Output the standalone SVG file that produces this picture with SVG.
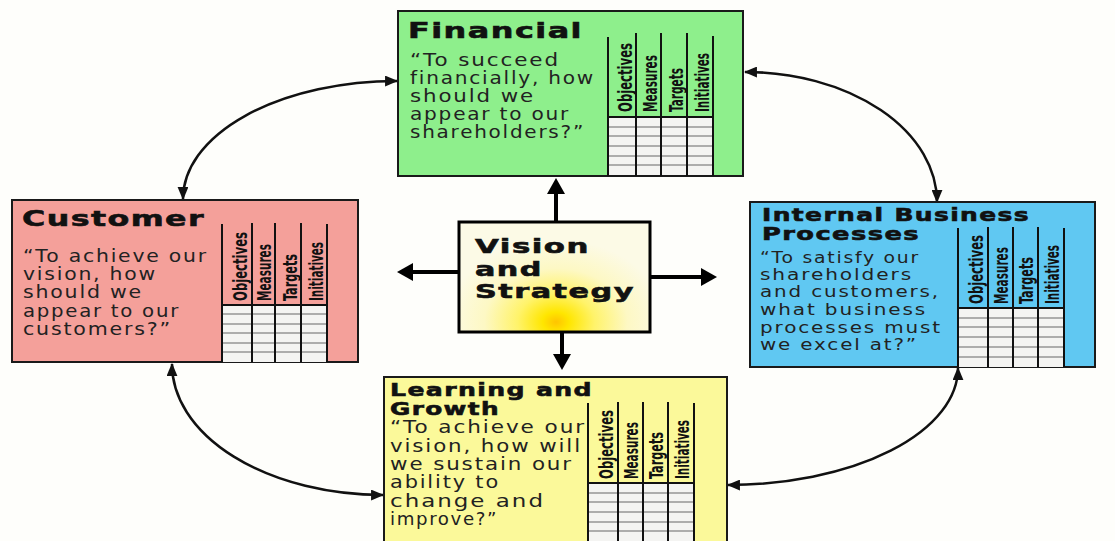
<svg xmlns="http://www.w3.org/2000/svg" width="1115" height="541" viewBox="0 0 1115 541">
<defs>
<style>
.box{stroke:#1a1a1a;stroke-width:2}
.tt{font-family:"DejaVu Sans","Liberation Sans",sans-serif;font-weight:bold;fill:#111;stroke:#111;stroke-width:0.6;letter-spacing:1px}
.bd{font-family:"DejaVu Sans","Liberation Sans",sans-serif;fill:#222;letter-spacing:1.5px}
.hd{font-family:"Liberation Sans Narrow","DejaVu Sans Condensed","Liberation Sans",sans-serif;font-weight:bold;font-size:20px;fill:#111}
.vl{stroke:#111;stroke-width:2}
.hl{stroke:#666;stroke-width:1}
.grid{fill:#f4f4f2}
.conn{fill:none;stroke:#111;stroke-width:2.5}
.thick{fill:none;stroke:#000;stroke-width:4}
.head{fill:#000}
</style>
<marker id="ah" viewBox="0 0 12 10" refX="11" refY="5" markerWidth="13" markerHeight="11" markerUnits="userSpaceOnUse" orient="auto-start-reverse">
<path d="M0,0 L12,5 L0,10 z" fill="#111"/>
</marker>
<radialGradient id="vg" gradientUnits="userSpaceOnUse" cx="556" cy="322" r="110" gradientTransform="translate(556 322) scale(1 0.75) translate(-556 -322)">
<stop offset="0" stop-color="#ffc400"/>
<stop offset="0.12" stop-color="#ffe600"/>
<stop offset="0.35" stop-color="#fff36a"/>
<stop offset="0.65" stop-color="#fdf8c4"/>
<stop offset="1" stop-color="#fcfae6"/>
</radialGradient>
</defs>
<rect x="0" y="0" width="1115" height="541" fill="#fefefb"/>

<g id="connectors">
<path class="conn" d="M397 81 A214 118 0 0 0 183 199" marker-start="url(#ah)" marker-end="url(#ah)"/>
<path class="conn" d="M745 72 A192 130 0 0 1 937 202" marker-start="url(#ah)" marker-end="url(#ah)"/>
<path class="conn" d="M172 364 A211 131 0 0 0 383 495" marker-start="url(#ah)" marker-end="url(#ah)"/>
<path class="conn" d="M958 368 A230 117 0 0 1 728 485" marker-start="url(#ah)" marker-end="url(#ah)"/>
<line class="thick" x1="556" y1="222" x2="556" y2="192"/>
<path class="head" d="M556 178 L547 194 L565 194 z"/>
<line class="thick" x1="562" y1="332" x2="562" y2="356"/>
<path class="head" d="M562 370 L553 354 L571 354 z"/>
<line class="thick" x1="650" y1="277" x2="703" y2="277"/>
<path class="head" d="M717 277 L701 268 L701 286 z"/>
<line class="thick" x1="459" y1="272" x2="411" y2="272"/>
<path class="head" d="M397 272 L413 263 L413 281 z"/>
</g>

<g id="node-financial">
<rect class="box" x="398" y="11" width="345" height="165" fill="#8eef8c"/>
<text class="tt" x="408" y="38" font-size="22" textLength="175" lengthAdjust="spacingAndGlyphs">Financial</text>
<g class="bd" font-size="17">
<text x="410" y="66" textLength="150" lengthAdjust="spacingAndGlyphs">“To succeed</text>
<text x="410" y="84" textLength="185" lengthAdjust="spacingAndGlyphs">financially, how</text>
<text x="410" y="102" textLength="125" lengthAdjust="spacingAndGlyphs">should we</text>
<text x="410" y="120" textLength="160" lengthAdjust="spacingAndGlyphs">appear to our</text>
<text x="410" y="138" textLength="175" lengthAdjust="spacingAndGlyphs">shareholders?”</text>
</g>
<rect class="grid" x="608" y="117" width="105" height="58"/>
<line class="hl" x1="608" y1="127" x2="713" y2="127"/>
<line class="hl" x1="608" y1="136" x2="713" y2="136" stroke="#333"/>
<line class="hl" x1="608" y1="146" x2="713" y2="146"/>
<line class="hl" x1="608" y1="156" x2="713" y2="156" stroke="#333"/>
<line class="hl" x1="608" y1="165" x2="713" y2="165"/>
<line class="vl" x1="608" y1="117" x2="713" y2="117"/>
<line class="vl" x1="608" y1="37" x2="608" y2="176"/>
<line class="vl" x1="636" y1="33" x2="636" y2="176"/>
<line class="vl" x1="661" y1="33" x2="661" y2="176"/>
<line class="vl" x1="687" y1="33" x2="687" y2="176"/>
<line class="vl" x1="713" y1="36" x2="713" y2="176"/>
<text class="hd" transform="translate(632 112) rotate(-90)" textLength="69" lengthAdjust="spacingAndGlyphs">Objectives</text>
<text class="hd" transform="translate(657 112) rotate(-90)" textLength="57" lengthAdjust="spacingAndGlyphs">Measures</text>
<text class="hd" transform="translate(683 112) rotate(-90)" textLength="44" lengthAdjust="spacingAndGlyphs">Targets</text>
<text class="hd" transform="translate(709 112) rotate(-90)" textLength="59" lengthAdjust="spacingAndGlyphs">Initiatives</text>
</g>

<g id="node-customer">
<rect class="box" x="12" y="200" width="346" height="162" fill="#f4a09a"/>
<text class="tt" x="22" y="226" font-size="22" textLength="183" lengthAdjust="spacingAndGlyphs">Customer</text>
<g class="bd" font-size="17">
<text x="23" y="262" textLength="185" lengthAdjust="spacingAndGlyphs">“To achieve our</text>
<text x="23" y="280" textLength="134" lengthAdjust="spacingAndGlyphs">vision, how</text>
<text x="23" y="298" textLength="120" lengthAdjust="spacingAndGlyphs">should we</text>
<text x="23" y="317" textLength="157" lengthAdjust="spacingAndGlyphs">appear to our</text>
<text x="23" y="335" textLength="149" lengthAdjust="spacingAndGlyphs">customers?”</text>
</g>
<rect class="grid" x="222" y="305" width="105" height="57"/>
<line class="hl" x1="222" y1="314" x2="327" y2="314"/>
<line class="hl" x1="222" y1="324" x2="327" y2="324" stroke="#333"/>
<line class="hl" x1="222" y1="333" x2="327" y2="333"/>
<line class="hl" x1="222" y1="343" x2="327" y2="343" stroke="#333"/>
<line class="hl" x1="222" y1="352" x2="327" y2="352"/>
<line class="vl" x1="222" y1="305" x2="327" y2="305"/>
<line class="vl" x1="222" y1="224" x2="222" y2="362"/>
<line class="vl" x1="252" y1="223" x2="252" y2="362"/>
<line class="vl" x1="275" y1="223" x2="275" y2="362"/>
<line class="vl" x1="301" y1="223" x2="301" y2="362"/>
<line class="vl" x1="327" y1="224" x2="327" y2="362"/>
<text class="hd" transform="translate(247 301) rotate(-90)" textLength="69" lengthAdjust="spacingAndGlyphs">Objectives</text>
<text class="hd" transform="translate(271 301) rotate(-90)" textLength="57" lengthAdjust="spacingAndGlyphs">Measures</text>
<text class="hd" transform="translate(297 301) rotate(-90)" textLength="47" lengthAdjust="spacingAndGlyphs">Targets</text>
<text class="hd" transform="translate(323 301) rotate(-90)" textLength="59" lengthAdjust="spacingAndGlyphs">Initiatives</text>
</g>

<g id="node-internal">
<rect class="box" x="750" y="202" width="345" height="165" fill="#60c8f2"/>
<text class="tt" x="762" y="221" font-size="18" textLength="268" lengthAdjust="spacingAndGlyphs">Internal Business</text>
<text class="tt" x="762" y="240" font-size="18" textLength="158" lengthAdjust="spacingAndGlyphs">Processes</text>
<g class="bd" font-size="16">
<text x="760" y="263" textLength="160" lengthAdjust="spacingAndGlyphs">“To satisfy our</text>
<text x="760" y="280" textLength="153" lengthAdjust="spacingAndGlyphs">shareholders</text>
<text x="760" y="297" textLength="180" lengthAdjust="spacingAndGlyphs">and customers,</text>
<text x="760" y="315" textLength="167" lengthAdjust="spacingAndGlyphs">what business</text>
<text x="760" y="333" textLength="182" lengthAdjust="spacingAndGlyphs">processes must</text>
<text x="760" y="350" textLength="158" lengthAdjust="spacingAndGlyphs">we excel at?”</text>
</g>
<rect class="grid" x="958" y="308" width="106" height="59"/>
<line class="hl" x1="958" y1="318" x2="1064" y2="318"/>
<line class="hl" x1="958" y1="327" x2="1064" y2="327" stroke="#333"/>
<line class="hl" x1="958" y1="337" x2="1064" y2="337"/>
<line class="hl" x1="958" y1="347" x2="1064" y2="347" stroke="#333"/>
<line class="hl" x1="958" y1="357" x2="1064" y2="357"/>
<line class="vl" x1="958" y1="308" x2="1064" y2="308"/>
<line class="vl" x1="958" y1="228" x2="958" y2="367"/>
<line class="vl" x1="988" y1="227" x2="988" y2="367"/>
<line class="vl" x1="1013" y1="227" x2="1013" y2="367"/>
<line class="vl" x1="1038" y1="227" x2="1038" y2="367"/>
<line class="vl" x1="1064" y1="228" x2="1064" y2="367"/>
<text class="hd" transform="translate(983 304) rotate(-90)" textLength="69" lengthAdjust="spacingAndGlyphs">Objectives</text>
<text class="hd" transform="translate(1008 304) rotate(-90)" textLength="57" lengthAdjust="spacingAndGlyphs">Measures</text>
<text class="hd" transform="translate(1033 304) rotate(-90)" textLength="47" lengthAdjust="spacingAndGlyphs">Targets</text>
<text class="hd" transform="translate(1059 304) rotate(-90)" textLength="59" lengthAdjust="spacingAndGlyphs">Initiatives</text>
</g>

<g id="node-learning">
<rect class="box" x="384" y="377" width="343" height="166" fill="#fbf99a"/>
<text class="tt" x="390" y="396" font-size="18" textLength="203" lengthAdjust="spacingAndGlyphs">Learning and</text>
<text class="tt" x="390" y="415" font-size="18" textLength="110" lengthAdjust="spacingAndGlyphs">Growth</text>
<g class="bd" font-size="17">
<text x="390" y="433" textLength="196" lengthAdjust="spacingAndGlyphs">“To achieve our</text>
<text x="390" y="452" textLength="192" lengthAdjust="spacingAndGlyphs">vision, how will</text>
<text x="390" y="470" textLength="183" lengthAdjust="spacingAndGlyphs">we sustain our</text>
<text x="390" y="488" textLength="110" lengthAdjust="spacingAndGlyphs">ability to</text>
<text x="390" y="507" textLength="155" lengthAdjust="spacingAndGlyphs">change and</text>
<text x="390" y="525" textLength="108" lengthAdjust="spacingAndGlyphs">improve?”</text>
</g>
<rect class="grid" x="588" y="483" width="106" height="58"/>
<line class="hl" x1="588" y1="493" x2="694" y2="493"/>
<line class="hl" x1="588" y1="502" x2="694" y2="502" stroke="#333"/>
<line class="hl" x1="588" y1="512" x2="694" y2="512"/>
<line class="hl" x1="588" y1="522" x2="694" y2="522" stroke="#333"/>
<line class="hl" x1="588" y1="531" x2="694" y2="531"/>
<line class="vl" x1="588" y1="483" x2="694" y2="483"/>
<line class="vl" x1="588" y1="403" x2="588" y2="541"/>
<line class="vl" x1="618" y1="402" x2="618" y2="541"/>
<line class="vl" x1="643" y1="402" x2="643" y2="541"/>
<line class="vl" x1="668" y1="402" x2="668" y2="541"/>
<line class="vl" x1="694" y1="403" x2="694" y2="541"/>
<text class="hd" transform="translate(613 479) rotate(-90)" textLength="69" lengthAdjust="spacingAndGlyphs">Objectives</text>
<text class="hd" transform="translate(638 479) rotate(-90)" textLength="57" lengthAdjust="spacingAndGlyphs">Measures</text>
<text class="hd" transform="translate(663 479) rotate(-90)" textLength="47" lengthAdjust="spacingAndGlyphs">Targets</text>
<text class="hd" transform="translate(689 479) rotate(-90)" textLength="59" lengthAdjust="spacingAndGlyphs">Initiatives</text>
</g>

<g id="node-vision">
<rect x="459" y="222" width="191" height="110" fill="url(#vg)" stroke="#000" stroke-width="3"/>
<text class="tt" x="475" y="253" font-size="20" textLength="115" lengthAdjust="spacingAndGlyphs">Vision</text>
<text class="tt" x="475" y="276" font-size="20" textLength="68" lengthAdjust="spacingAndGlyphs">and</text>
<text class="tt" x="475" y="298" font-size="20" textLength="160" lengthAdjust="spacingAndGlyphs">Strategy</text>
</g>
</svg>
